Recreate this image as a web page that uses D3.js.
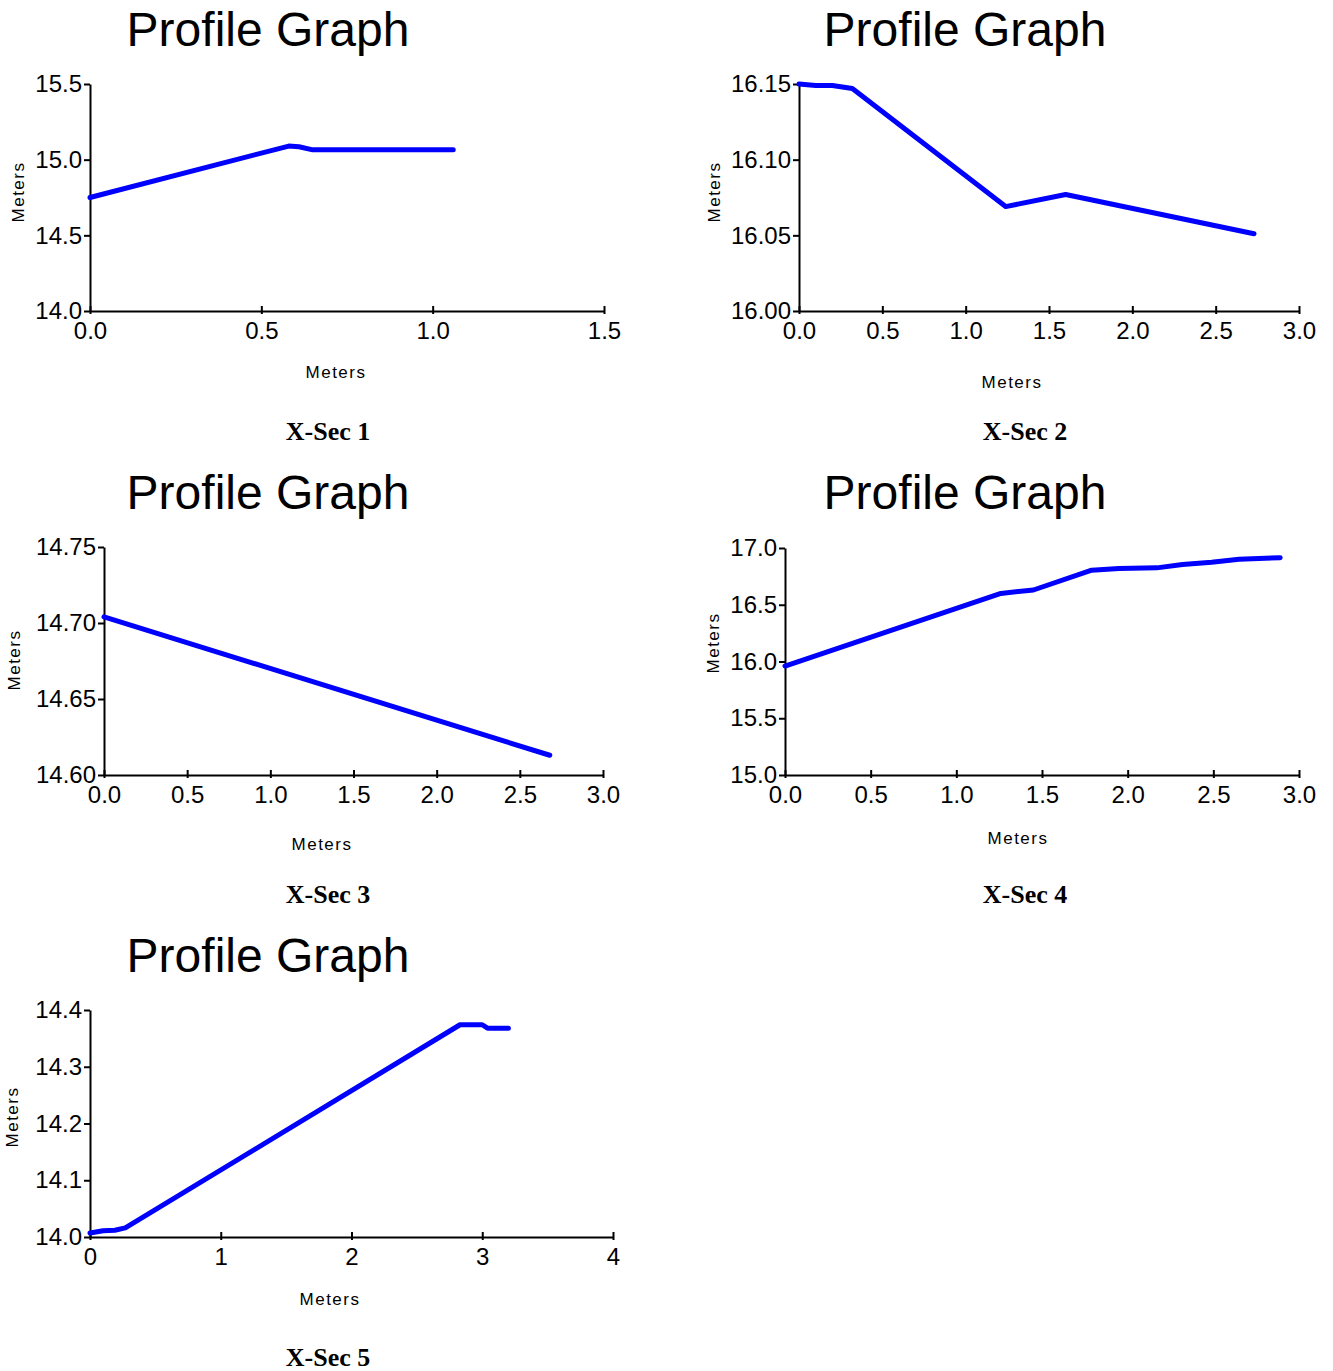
<!DOCTYPE html>
<html>
<head>
<meta charset="utf-8">
<script src="https://cdn.jsdelivr.net/npm/d3@7"></script>
<style>
	body { margin: 0; background: #fff; }
	svg { display: block; }
	.axis path, .axis line { stroke: #000; stroke-width: 2; }
	.axis text { font-family: "Liberation Sans", Arial, sans-serif; font-size: 24px; fill: #000; }
</style>
</head>
<body>
<svg id="chart" width="1333" height="1371"></svg>
<script>
// cross-section profiles (distance in m, elevation in m)
const sec1Dist = [0, 0.58, 0.61, 0.65, 1.06]
const sec1Elev = [14.75, 15.09, 15.085, 15.065, 15.065]
const sec2Dist = [0, 0.1, 0.2, 0.32, 1.24, 1.6, 2.73]
const sec2Elev = [16.15, 16.149, 16.149, 16.147, 16.069, 16.077, 16.051]
const sec3Dist = [0, 2.68]
const sec3Elev = [14.704, 14.613]
const sec4Dist = [0, 1.26, 1.45, 1.79, 1.95, 2.17, 2.32, 2.49, 2.65, 2.89]
const sec4Elev = [15.96, 16.6, 16.63, 16.805, 16.82, 16.825, 16.855, 16.875, 16.9, 16.915]
const sec5Dist = [0, 0.1, 0.19, 0.27, 2.83, 3.0, 3.04, 3.2]
const sec5Elev = [14.007, 14.011, 14.012, 14.016, 14.374, 14.374, 14.368, 14.368]

const sec1XTicks = [0, 0.5, 1.0, 1.5], sec1YTicks = [14.0, 14.5, 15.0, 15.5]
const sec2XTicks = [0, 0.5, 1, 1.5, 2, 2.5, 3], sec2YTicks = [16.0, 16.05, 16.1, 16.15]
const sec3XTicks = [0, 0.5, 1, 1.5, 2, 2.5, 3], sec3YTicks = [14.6, 14.65, 14.7, 14.75]
const sec4XTicks = [0, 0.5, 1, 1.5, 2, 2.5, 3], sec4YTicks = [15.0, 15.5, 16.0, 16.5, 17.0]
const sec5XTicks = [0, 1, 2, 3, 4], sec5YTicks = [14.0, 14.1, 14.2, 14.3, 14.4]

const captions = ["X-Sec 1", "X-Sec 2", "X-Sec 3", "X-Sec 4", "X-Sec 5"]
const title = "Profile Graph"
const axisLabel = "Meters"

const panels = [
	{dist: sec1Dist, elev: sec1Elev, xt: sec1XTicks, yt: sec1YTicks, xf: ".1f", yf: ".1f",
		left: 90, right: 604, top: 84, bottom: 311, titleX: 268, titleY: 46, xlabX: 336, xlabY: 378, ylabX: 24, ylabY: 192, capX: 328, capY: 440},
	{dist: sec2Dist, elev: sec2Elev, xt: sec2XTicks, yt: sec2YTicks, xf: ".1f", yf: ".2f",
		left: 799, right: 1299, top: 84, bottom: 311, titleX: 965, titleY: 46, xlabX: 1012, xlabY: 388, ylabX: 720, ylabY: 192, capX: 1025, capY: 440},
	{dist: sec3Dist, elev: sec3Elev, xt: sec3XTicks, yt: sec3YTicks, xf: ".1f", yf: ".2f",
		left: 104, right: 603, top: 547, bottom: 775, titleX: 268, titleY: 509, xlabX: 322, xlabY: 850, ylabX: 20, ylabY: 660, capX: 328, capY: 903},
	{dist: sec4Dist, elev: sec4Elev, xt: sec4XTicks, yt: sec4YTicks, xf: ".1f", yf: ".1f",
		left: 785, right: 1299, top: 548, bottom: 775, titleX: 965, titleY: 509, xlabX: 1018, xlabY: 844, ylabX: 719, ylabY: 643, capX: 1025, capY: 903},
	{dist: sec5Dist, elev: sec5Elev, xt: sec5XTicks, yt: sec5YTicks, xf: "d", yf: ".1f",
		left: 90, right: 613, top: 1010, bottom: 1237, titleX: 268, titleY: 972, xlabX: 330, xlabY: 1305, ylabX: 18, ylabY: 1117, capX: 328, capY: 1366},
]

const svg = d3.select("#chart")

panels.forEach((p, i) => {
	const x = d3.scaleLinear().domain(d3.extent(p.xt)).range([p.left, p.right])
	const y = d3.scaleLinear().domain(d3.extent(p.yt)).range([p.bottom, p.top])
	const g = svg.append("g")

	g.append("text")
		.attr("x", p.titleX).attr("y", p.titleY)
		.attr("text-anchor", "middle")
		.style("font-family", "'Liberation Sans', Arial, sans-serif")
		.style("font-size", "48px")
		.text(title)

	const xAxis = g.append("g")
		.attr("class", "axis")
		.attr("transform", "translate(0," + p.bottom + ")")
		.call(d3.axisBottom(x).tickValues(p.xt).tickFormat(d3.format(p.xf)).tickSizeInner(0).tickSizeOuter(0).tickPadding(11))
	xAxis.selectAll(".tick line").attr("y1", 3).attr("y2", -5)

	g.append("g")
		.attr("class", "axis")
		.attr("transform", "translate(" + p.left + ",0)")
		.call(d3.axisLeft(y).tickValues(p.yt).tickFormat(d3.format(p.yf)).tickSizeInner(6).tickSizeOuter(0).tickPadding(2))

	g.append("text")
		.attr("x", p.xlabX).attr("y", p.xlabY)
		.attr("text-anchor", "middle")
		.style("font-family", "'Liberation Sans', Arial, sans-serif")
		.style("font-size", "17px")
		.style("letter-spacing", "1.5px")
		.text(axisLabel)

	g.append("text")
		.attr("transform", "translate(" + p.ylabX + "," + p.ylabY + ") rotate(-90)")
		.attr("text-anchor", "middle")
		.style("font-family", "'Liberation Sans', Arial, sans-serif")
		.style("font-size", "17px")
		.style("letter-spacing", "1.5px")
		.text(axisLabel)

	const line = d3.line()
		.x((d, j) => x(p.dist[j]))
		.y(d => y(d))
	g.append("path")
		.datum(p.elev)
		.attr("fill", "none")
		.attr("stroke", "#0000ff")
		.attr("stroke-width", 5)
		.attr("stroke-linejoin", "round")
		.attr("stroke-linecap", "round")
		.attr("d", line)

	g.append("text")
		.attr("x", p.capX).attr("y", p.capY)
		.attr("text-anchor", "middle")
		.style("font-family", "'Liberation Serif', 'Times New Roman', serif")
		.style("font-weight", "bold")
		.style("font-size", "26px")
		.text(captions[i])
})
</script>
</body>
</html>
